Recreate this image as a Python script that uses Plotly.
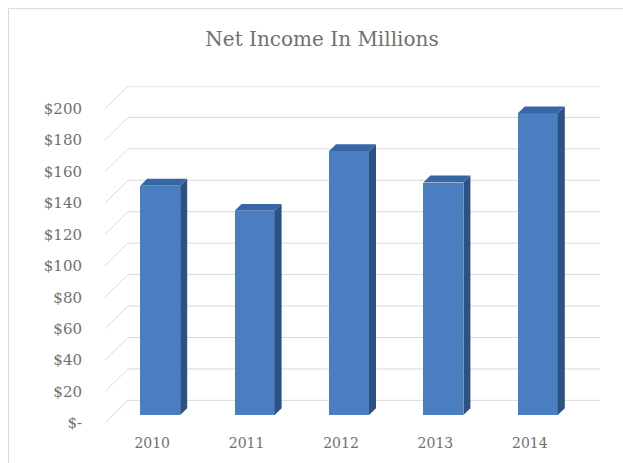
import plotly.graph_objects as go

# ---- data ----
years = ["2010", "2011", "2012", "2013", "2014"]
net_income = [146, 130, 168, 148, 192]
y_ticks = [0, 20, 40, 60, 80, 100, 120, 140, 160, 180, 200]
y_tick_text = ["$-", "$20", "$40", "$60", "$80", "$100", "$120", "$140", "$160", "$180", "$200"]

# ---- geometry (pixels) ----
W, H = 623, 463
L, R, T, B = 105, 600, 86, 428
depth_px = 23          # front -> back wall offset (both x and y)
cat_px = (R - depth_px - L) / len(years)
val_px = (B - T - depth_px) / 200.0

x_range = [-0.5, -0.5 + (R - L) / cat_px]
y_range = [0, (B - T) / val_px]
dX = depth_px / cat_px
dY = depth_px / val_px
f0, f1 = 8 / 23, 15 / 23   # bar front / back depth fractions
bw = 40 / cat_px

FRONT = "#4A7EC0"
SIDE = "#2B5283"
TOP = "#3767A5"
GRID = "#d9d9d9"
TXT = "#707070"
FONT = "DejaVu Serif"

fig = go.Figure()

idx = list(range(len(years)))

# front faces
fig.add_trace(go.Bar(
    x=[i + f0 * dX for i in idx], y=net_income, base=f0 * dY, width=bw,
    marker=dict(color=FRONT, line=dict(width=0)), hoverinfo="skip", showlegend=False,
))

# side and top faces
ddx, ddy = (f1 - f0) * dX, (f1 - f0) * dY
sx, sy, tx, ty = [], [], [], []
for i, v in zip(idx, net_income):
    xl = i + f0 * dX - bw / 2
    xr = i + f0 * dX + bw / 2
    b = f0 * dY
    sx += [xr, xr + ddx, xr + ddx, xr, xr, None]
    sy += [b, b + ddy, b + v + ddy, b + v, b, None]
    tx += [xl, xl + ddx, xr + ddx, xr, xl, None]
    ty += [b + v, b + v + ddy, b + v + ddy, b + v, b + v, None]
fig.add_trace(go.Scatter(x=sx, y=sy, fill="toself", fillcolor=SIDE, mode="lines",
                         line=dict(width=0, color=SIDE), hoverinfo="skip", showlegend=False))
fig.add_trace(go.Scatter(x=tx, y=ty, fill="toself", fillcolor=TOP, mode="lines",
                         line=dict(width=0, color=TOP), hoverinfo="skip", showlegend=False))

# gridlines: back wall + side wall diagonals
shapes = []
x0 = -0.5
x1 = len(years) - 0.5
for v in y_ticks:
    shapes.append(dict(type="line", xref="x", yref="y", layer="below",
                       x0=x0 + dX, y0=v + dY, x1=x1 + dX, y1=v + dY,
                       line=dict(color=GRID, width=1)))
    shapes.append(dict(type="line", xref="x", yref="y", layer="below",
                       x0=x0, y0=v, x1=x0 + dX, y1=v + dY,
                       line=dict(color=GRID, width=1)))

# chart frame
def px_to_paper_x(px):
    return (px - L) / (R - L)

def px_to_paper_y(py):
    return (B - py) / (B - T)

shapes.append(dict(type="rect", xref="paper", yref="paper", layer="below",
                   x0=px_to_paper_x(8.5), y0=px_to_paper_y(7.5),
                   x1=px_to_paper_x(W + 20), y1=px_to_paper_y(H + 20),
                   line=dict(color=GRID, width=1), fillcolor="rgba(0,0,0,0)"))

fig.update_layout(
    width=W, height=H,
    margin=dict(l=L, r=W - R, t=T, b=H - B, pad=0),
    paper_bgcolor="white", plot_bgcolor="white",
    shapes=shapes,
    bargap=0,
    title=dict(text="Net Income In Millions", x=322 / W, xanchor="center",
               y=1 - 39 / H, yanchor="middle", yref="container",
               font=dict(family=FONT, size=20, color=TXT)),
    xaxis=dict(range=x_range, showgrid=False, zeroline=False, showline=False,
               tickmode="array", tickvals=idx, ticktext=years, ticks="",
               ticklabelstandoff=10,
               tickfont=dict(family=FONT, size=14, color=TXT), fixedrange=True),
    yaxis=dict(range=y_range, showgrid=False, zeroline=False, showline=False,
               tickmode="array", tickvals=y_ticks, ticktext=y_tick_text, ticks="",
               ticklabelstandoff=22,
               tickfont=dict(family=FONT, size=15, color=TXT), fixedrange=True),
)

fig.write_html("out.html")
